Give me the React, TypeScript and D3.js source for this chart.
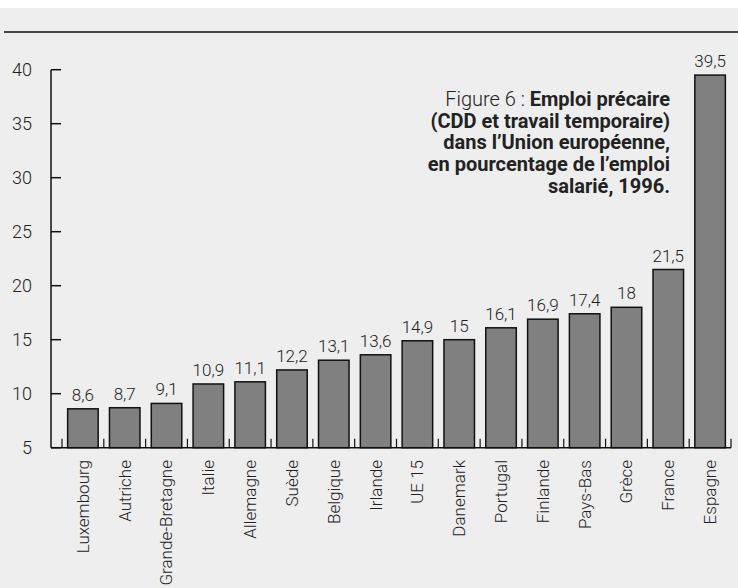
import React from "react";
import * as d3 from "d3";

const countries = [
  "Luxembourg", "Autriche", "Grande-Bretagne", "Italie", "Allemagne", "Suède",
  "Belgique", "Irlande", "UE 15", "Danemark", "Portugal", "Finlande",
  "Pays-Bas", "Grèce", "France", "Espagne",
];
const shares = [8.6, 8.7, 9.1, 10.9, 11.1, 12.2, 13.1, 13.6, 14.9, 15, 16.1, 16.9, 17.4, 18, 21.5, 39.5];
const yTicks = [5, 10, 15, 20, 25, 30, 35, 40];
const titleLines = [
  { light: "Figure 6 : ", bold: "Emploi précaire" },
  { light: "", bold: "(CDD et travail temporaire)" },
  { light: "", bold: "dans l’Union européenne," },
  { light: "", bold: "en pourcentage de l’emploi" },
  { light: "", bold: "salarié, 1996." },
];

const W = 738;
const H = 588;
const FONT = "Roboto, 'Liberation Sans', sans-serif";

export default function App() {
  const axisX = 51;
  const y = d3.scaleLinear().domain([5, 40]).range([447.7, 69.7]);
  const x = d3.scaleBand<string>().domain(countries).range([62, 731]).paddingInner(0.27).paddingOuter(0.135);
  const step = x.step();
  const bounds = d3.range(countries.length + 1).map((i) => 62 + i * step);
  const fmt = (v: number) => String(v).replace(".", ",");

  return (
    <svg width={W} height={H} style={{ position: "absolute", left: 0, top: 0, fontFamily: FONT }}>
      <rect x={0} y={0} width={W} height={H} fill="#ffffff" />
      <rect x={0} y={8} width={W} height={H - 8} fill="#eeeeee" />
      <line x1={4} x2={W} y1={32} y2={32} stroke="#111" strokeWidth={1.5} />

      {/* y axis */}
      <line x1={axisX} x2={axisX} y1={y(40)} y2={y(5)} stroke="#111" strokeWidth={1.5} />
      {yTicks.map((t) => (
        <g key={t}>
          <line x1={axisX} x2={axisX + 10} y1={y(t)} y2={y(t)} stroke="#111" strokeWidth={1.5} />
          <text x={32} y={y(t)} dy="0.36em" textAnchor="end" fontSize={18} fill="#222" fontWeight={300}>
            {t}
          </text>
        </g>
      ))}

      {/* x axis */}
      <line x1={axisX} x2={bounds[bounds.length - 1]} y1={y(5)} y2={y(5)} stroke="#111" strokeWidth={1.5} />
      {bounds.map((b, i) => (
        <line key={i} x1={b} x2={b} y1={y(5)} y2={y(5) - 9} stroke="#111" strokeWidth={1.2} />
      ))}

      {/* bars */}
      {countries.map((c, i) => {
        const x0 = x(c)!;
        const bw = x.bandwidth();
        return (
          <g key={c}>
            <rect x={x0} y={y(shares[i])} width={bw} height={y(5) - y(shares[i])} fill="#808080" stroke="#111" strokeWidth={1.5} />
            <text x={x0 + bw / 2} y={y(shares[i]) - 8} textAnchor="middle" fontSize={17} fill="#222" fontWeight={300}>
              {fmt(shares[i])}
            </text>
            <text
              transform={`translate(${x0 + bw / 2},460) rotate(-90)`}
              dy="0.35em"
              textAnchor="end"
              fontSize={17}
              fill="#222"
              fontWeight={300}
            >
              {c}
            </text>
          </g>
        );
      })}

      {/* title */}
      {titleLines.map((l, i) => (
        <text key={i} x={670} y={106 + i * 21.7} textAnchor="end" fontSize={20} fill="#222">
          {l.light && <tspan fontWeight={300}>{l.light}</tspan>}
          <tspan fontWeight={700}>{l.bold}</tspan>
        </text>
      ))}
    </svg>
  );
}
